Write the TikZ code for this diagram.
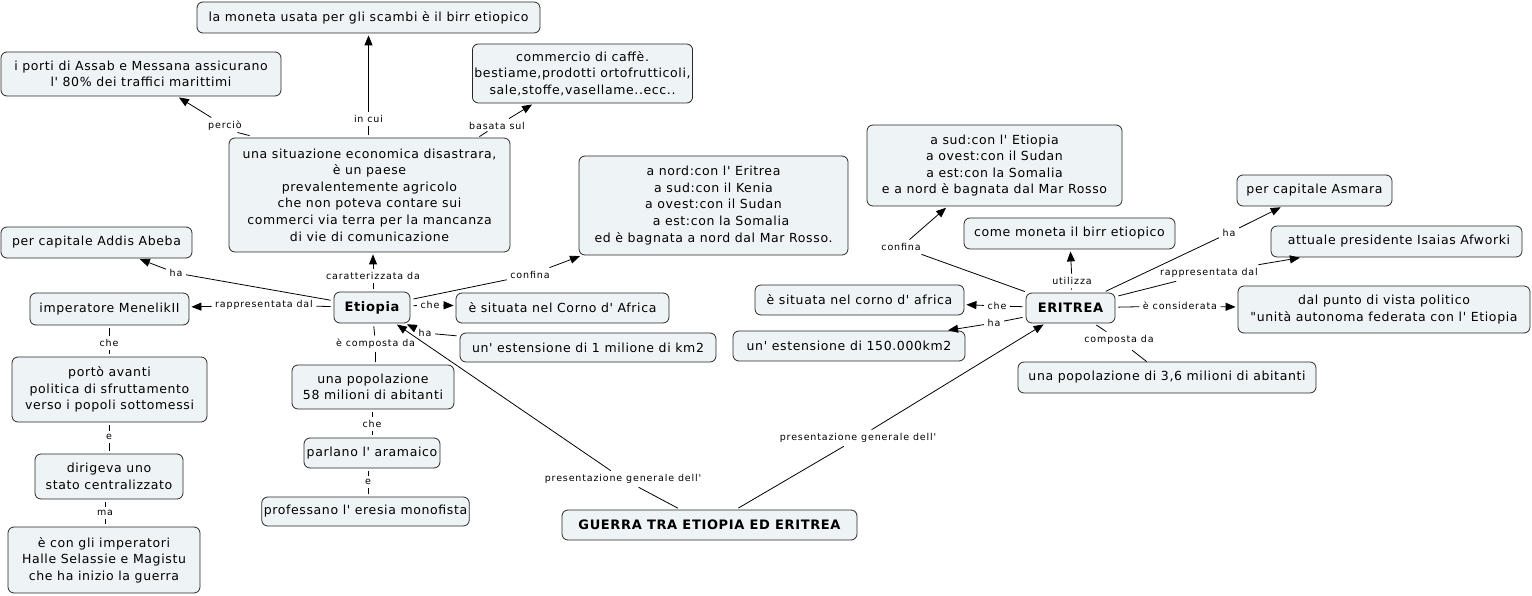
\documentclass[tikz,border=0pt]{standalone}
\usepackage{fontspec}
\setmainfont{DejaVu Sans}
\newfontfamily\cmapfont[LetterSpace=5,Ligatures=TeXOff]{DejaVu Sans}
\newfontfamily\linkfont[LetterSpace=9,Ligatures=TeXOff]{DejaVu Sans}
\usetikzlibrary{arrows.meta}
\definecolor{conceptfill}{RGB}{238,243,245}
\definecolor{conceptline}{RGB}{40,40,40}

\begin{document}
\begin{tikzpicture}[x=1pt,y=-1pt,
    concept/.style={draw=conceptline,fill=conceptfill,line width=0.8pt,rounded corners=6pt,
        align=center,inner sep=2pt,font=\cmapfont\fontsize{12.5}{16.6}\selectfont},
    linkword/.style={inner sep=3.5pt,font=\linkfont\fontsize{9.5}{11}\selectfont},
    conn/.style={line width=0.8pt,shorten <=3pt},
    arr/.style={line width=0.8pt,-{Triangle[length=10pt,width=8pt]},shorten >=2pt}]
                    \useasboundingbox (0,0) rectangle (1532,596);

                    \node[concept,minimum width=343pt,minimum height=31pt] (moneta) at (368.5,17.5) {la moneta usata per gli scambi è il birr etiopico};
                    \node[concept,minimum width=280pt,minimum height=44pt] (porti) at (141,74) {i porti di Assab e Messana assicurano\\ l' 80\% dei traffici marittimi};
                    \node[concept,minimum width=217pt,minimum height=59pt] (commercio) at (582.5,73.5) {commercio di caffè.\\ bestiame,prodotti ortofrutticoli,\\ sale,stoffe,vasellame..ecc..};
                    \node[concept,minimum width=281pt,minimum height=114pt] (situazione) at (369.5,195) {una situazione economica disastrara,\\ è un paese\\ prevalentemente agricolo\\ che non poteva contare sui\\ commerci via terra per la mancanza\\ di vie di comunicazione};
                    \node[concept,minimum width=269pt,minimum height=99pt] (confiniEt) at (713.5,205.5) {a nord:con l' Eritrea\\ a sud:con il Kenia\\ a ovest:con il Sudan\\ \hspace*{1.2em}a est:con la Somalia\\ ed è bagnata a nord dal Mar Rosso.};
                    \node[concept,minimum width=191pt,minimum height=31pt] (addis) at (96.5,242.5) {per capitale Addis Abeba};
                    \node[concept,minimum width=76pt,minimum height=31pt,font=\cmapfont\bfseries\fontsize{13}{15}\selectfont] (etiopia) at (372,307.5) {Etiopia};
                    \node[concept,minimum width=213pt,minimum height=30pt] (cornoEt) at (562.5,308) {è situata nel Corno d' Africa};
                    \node[concept,minimum width=256pt,minimum height=29pt] (estEt) at (588,347.5) {un' estensione di 1 milione di km2};
                    \node[concept,minimum width=159pt,minimum height=32pt] (menelik) at (109.5,309) {imperatore MenelikII};
                    \node[concept,minimum width=195pt,minimum height=65pt] (politica) at (109.5,389.5) {portò avanti\\ politica di sfruttamento\\ verso i popoli sottomessi};
                    \node[concept,minimum width=148pt,minimum height=45pt] (stato) at (109,476.5) {dirigeva uno\\ stato centralizzato};
                    \node[concept,minimum width=192pt,minimum height=66pt] (imperatori) at (104,560) {è con gli imperatori\\ Halle Selassie e Magistu\\ che ha inizio la guerra};
                    \node[concept,minimum width=162pt,minimum height=44pt] (popEt) at (373,387) {una popolazione\\ 58 milioni di abitanti};
                    \node[concept,minimum width=136pt,minimum height=30pt] (aramaico) at (372,453) {parlano l' aramaico};
                    \node[concept,minimum width=207pt,minimum height=29pt] (monofista) at (365.5,511.5) {professano l' eresia monofista};
                    \node[concept,minimum width=295pt,minimum height=30pt,font=\cmapfont\bfseries\fontsize{13}{15}\selectfont] (guerra) at (709.5,525) {GUERRA TRA ETIOPIA ED ERITREA};
                    \node[concept,minimum width=89pt,minimum height=30pt,font=\cmapfont\bfseries\fontsize{13}{15}\selectfont] (eritrea) at (1070.5,308) {ERITREA};
                    \node[concept,minimum width=255pt,minimum height=81pt] (confiniEr) at (994.5,165.5) {a sud:con l' Etiopia\\ a ovest:con il Sudan\\ a est:con la Somalia\\ e a nord è bagnata dal Mar Rosso};
                    \node[concept,minimum width=211pt,minimum height=31pt] (birr) at (1069.5,233.5) {come moneta il birr etiopico};
                    \node[concept,minimum width=155pt,minimum height=31pt] (asmara) at (1314.5,190.5) {per capitale Asmara};
                    \node[concept,minimum width=251pt,minimum height=31pt] (afworki) at (1396.5,241.5) {\hspace*{0.4em}attuale presidente Isaias Afworki};
                    \node[concept,minimum width=209pt,minimum height=30pt] (cornoEr) at (859.5,300) {è situata nel corno d' africa};
                    \node[concept,minimum width=232pt,minimum height=30pt] (estEr) at (849,346) {un' estensione di 150.000km2};
                    \node[concept,minimum width=292pt,minimum height=47pt] (federata) at (1384,309.5) {dal punto di vista politico\\ "unità autonoma federata con l' Etiopia};
                    \node[concept,minimum width=298pt,minimum height=31pt] (popEr) at (1167,377.5) {una popolazione di 3,6 milioni di abitanti};

                    \node[linkword] (lIncui) at (368.5,119) {in cui};
                    \node[linkword] (lPercio) at (225,126) {perciò};
                    \node[linkword] (lBasata) at (497,126) {basata sul};
                    \node[linkword] (lCaratt) at (373,276) {caratterizzata da};
                    \node[linkword] (lHaEt) at (176,273) {ha};
                    \node[linkword] (lConfEt) at (530,275) {confina};
                    \node[linkword] (lRapprEt) at (264,305) {rappresentata dal};
                    \node[linkword] (lCheEt) at (430,305) {che};
                    \node[linkword] (lHaEst) at (425,333) {ha};
                    \node[linkword] (lCompEt) at (375.5,344) {è composta da};
                    \node[linkword] (lChePop) at (372,424) {che};
                    \node[linkword] (lEPop) at (368,482) {e};
                    \node[linkword] (lCheMen) at (109,343) {che};
                    \node[linkword] (lEMen) at (109,437) {e};
                    \node[linkword] (lMa) at (105,513) {ma};
                    \node[linkword] (lPresEt) at (623,479) {presentazione generale dell'};
                    \node[linkword] (lPresEr) at (858,438) {presentazione generale dell'};
                    \node[linkword] (lConfEr) at (901,247) {confina};
                    \node[linkword] (lUtil) at (1072,281) {utilizza};
                    \node[linkword] (lHaCap) at (1229,233) {ha};
                    \node[linkword] (lRapprEr) at (1209,273) {rappresentata dal};
                    \node[linkword] (lConsid) at (1180,306) {è considerata};
                    \node[linkword] (lCheEr) at (997,306) {che};
                    \node[linkword] (lHaEr) at (994,323) {ha};
                    \node[linkword] (lCompEr) at (1119,340) {composta da};

                    \draw[conn] (situazione.north -| lIncui) -- (lIncui);
                    \draw[arr] (lIncui) -- (lIncui |- moneta.south);
                    \draw[line width=0.8pt] ([shift={(21,-2)}]situazione.north west) -- ([shift={(-8,-2)}]lPercio.south east);
                    \draw[arr] (lPercio) -- (porti);
                    \draw[line width=0.8pt] ([shift={(-31,-1)}]situazione.north east) -- ([shift={(22,-2)}]lBasata.south west);
                    \draw[arr] (lBasata) -- (commercio);
                    \draw[conn] (etiopia.north -| lCaratt) -- (lCaratt);
                    \draw[arr] (lCaratt) -- (lCaratt |- situazione.south);
                    \draw[conn] (etiopia) -- (lHaEt);
                    \draw[arr] (lHaEt) -- (addis);
                    \draw[conn] (etiopia) -- (lConfEt);
                    \draw[arr] (lConfEt) -- (confiniEt);
                    \draw[conn] (etiopia) -- (lRapprEt);
                    \draw[arr] (lRapprEt) -- (menelik);
                    \draw[conn] (etiopia) -- (lCheEt);
                    \draw[arr] (lCheEt) -- (cornoEt);
                    \draw[conn] (estEt) -- (lHaEst);
                    \draw[arr] (lHaEst) -- (etiopia);
                    \draw[conn] (etiopia) -- (lCompEt);
                    \draw[conn] (popEt.north -| lCompEt) -- (lCompEt);
                    \draw[conn] (popEt.south -| lChePop) -- (lChePop);
                    \draw[conn] (aramaico.north -| lChePop) -- (lChePop);
                    \draw[conn] (aramaico.south -| lEPop) -- (lEPop);
                    \draw[conn] (monofista.north -| lEPop) -- (lEPop);
                    \draw[conn] (menelik.south -| lCheMen) -- (lCheMen);
                    \draw[conn] (politica.north -| lCheMen) -- (lCheMen);
                    \draw[conn] (politica.south -| lEMen) -- (lEMen);
                    \draw[conn] (stato.north -| lEMen) -- (lEMen);
                    \draw[conn] (stato.south -| lMa) -- (lMa);
                    \draw[conn] (imperatori.north -| lMa) -- (lMa);
                    \draw[conn] (guerra) -- (lPresEt);
                    \draw[arr] (lPresEt) -- (etiopia);
                    \draw[conn] (guerra) -- (lPresEr);
                    \draw[arr] (lPresEr) -- (eritrea);
                    \draw[conn] (eritrea) -- (lConfEr);
                    \draw[arr] (lConfEr) -- (confiniEr);
                    \draw[conn] (eritrea) -- (lUtil);
                    \draw[arr] (lUtil) -- (birr);
                    \draw[conn] (eritrea) -- (lHaCap);
                    \draw[arr] (lHaCap) -- (asmara);
                    \draw[conn] (eritrea) -- (lRapprEr);
                    \draw[arr] (lRapprEr) -- (afworki);
                    \draw[conn] (eritrea) -- (lConsid);
                    \draw[arr] (lConsid) -- (federata);
                    \draw[conn] (eritrea) -- (lCheEr);
                    \draw[arr] (lCheEr) -- (cornoEr);
                    \draw[conn] (eritrea) -- (lHaEr);
                    \draw[arr] (lHaEr) -- (estEr);
                    \draw[conn] (eritrea) -- (lCompEr);
                    \draw[conn] (lCompEr) -- (popEr);
                \end{tikzpicture}
\end{document}
